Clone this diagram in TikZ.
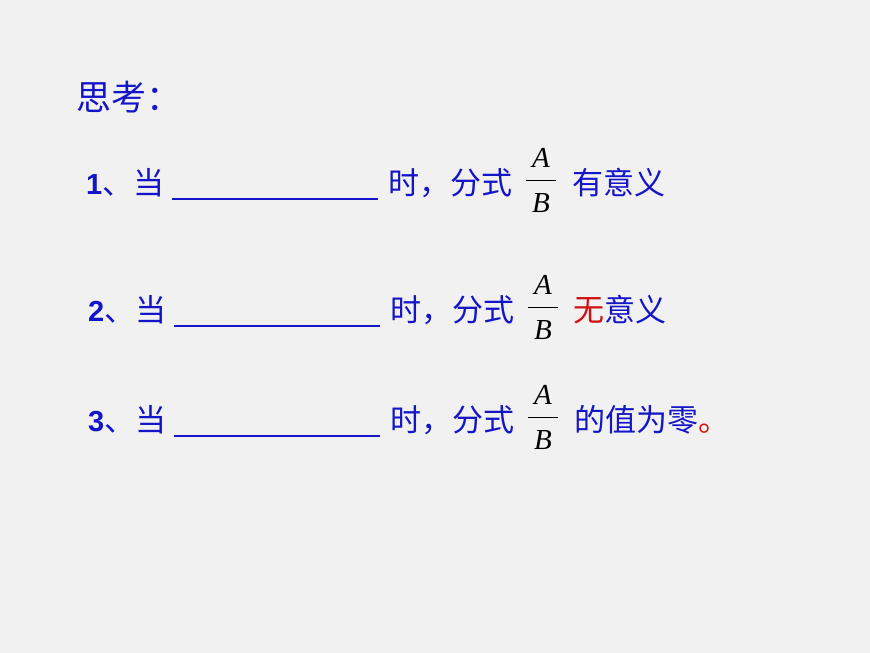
\documentclass[tikz,border=0pt]{standalone}
\usepackage{fontspec}
\setmainfont{Liberation Sans}
\newfontfamily\cjk{Noto Sans CJK SC}
\newfontfamily\tms{Liberation Serif}
\definecolor{bg}{HTML}{F1F1F1}
\definecolor{tb}{HTML}{1414C8}
\definecolor{tr}{HTML}{D01010}
\begin{document}
\begin{tikzpicture}[x=1bp,y=-1bp,
  txt/.style={inner sep=0pt,anchor=west,text=tb,font=\fontsize{31bp}{34bp}\selectfont},
  frac/.style={inner sep=0pt,font=\tms\itshape\fontsize{29bp}{32bp}\selectfont}]
\fill[bg] (0,0) rectangle (870,653);
\useasboundingbox (0,0) rectangle (870,653);
\node[txt,font=\cjk\fontsize{35bp}{38bp}\selectfont] (h) at (76,97) {思考：};
\foreach \n/\y/\dx in {1/183/0,2/310/2,3/420/2}{
  \node[txt] (num\n) at (86+\dx,\y) {{\fontsize{29bp}{32bp}\selectfont\textbf{\n}}{\cjk 、当}};
  \coordinate (ua\n) at (172+\dx,\y+16);
  \coordinate (ub\n) at (378+\dx,\y+16);
  \draw[tb,line width=1.2bp] (ua\n) -- (ub\n);
  \node[txt] (s\n) at (388+\dx,\y) {\cjk 时，分式};
  \node[frac] (A\n) at (541+\dx,\y-25) {A};
  \node[frac] (B\n) at (541+\dx,\y+20) {B};
  \draw[line width=1bp] (526+\dx,\y-3) -- (556+\dx,\y-3);
}
\node[txt] (e1) at (572,183) {\cjk 有意义};
\node[txt] (e2) at (573,310) {\cjk\textcolor{tr}{无}意义};
\node[txt] (e3) at (574,420) {\cjk 的值为零\textcolor{tr}{。}};
\end{tikzpicture}
\end{document}
